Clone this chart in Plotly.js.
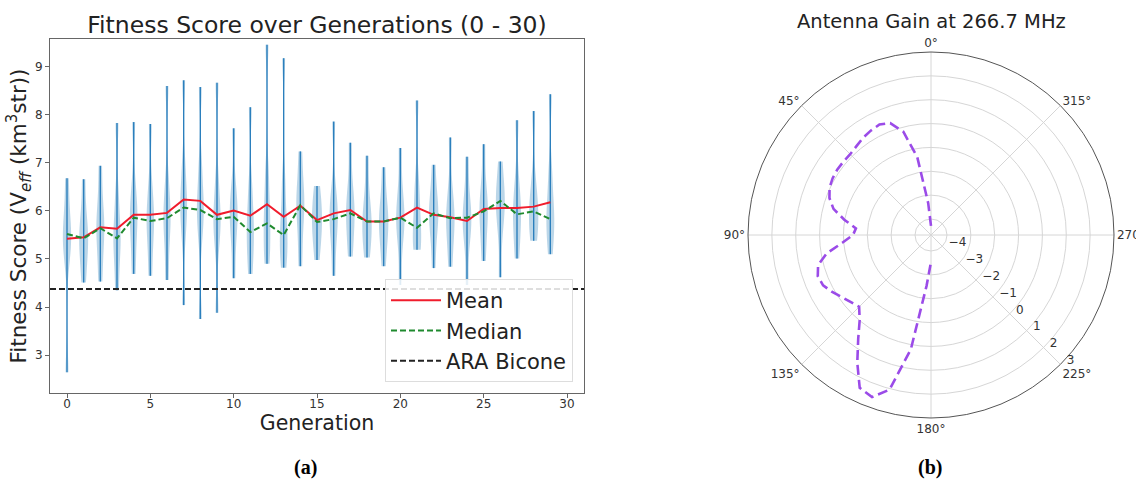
<!DOCTYPE html>
<html>
<head>
<meta charset="utf-8">
<script src="https://cdn.plot.ly/plotly-3.0.1.min.js"></script>
<style>
html,body{margin:0;padding:0;background:#fff;}
#chart{width:1136px;height:480px;}
</style>
</head>
<body>
<div id="chart"></div>
<script>
// ---------- Data: left panel (fitness per generation) ----------
const generations = [0,1,2,3,4,5,6,7,8,9,10,11,12,13,14,15,16,17,18,19,20,21,22,23,24,25,26,27,28,29];
const maxScore = [6.68,6.66,6.94,7.83,7.85,7.81,8.60,8.72,8.58,8.67,7.72,8.16,9.46,9.18,7.24,6.52,7.86,7.42,7.15,6.91,7.31,8.30,6.96,7.53,7.13,7.39,7.03,7.89,8.08,8.43];
const minScore = [2.64,4.51,4.53,4.35,4.69,4.65,4.56,4.04,3.75,3.88,4.60,4.69,4.90,4.82,4.85,4.98,4.65,5.05,5.03,4.85,4.46,5.19,4.81,4.84,4.46,4.96,4.62,5.01,5.38,5.10];
const meanScore = [5.42,5.45,5.66,5.63,5.92,5.92,5.96,6.24,6.21,5.92,6.01,5.90,6.14,5.88,6.11,5.81,5.95,6.02,5.78,5.78,5.86,6.07,5.92,5.87,5.79,6.04,6.06,6.06,6.09,6.18];
const medianScore = [5.52,5.43,5.64,5.43,5.86,5.79,5.85,6.07,6.02,5.83,5.88,5.56,5.74,5.50,6.12,5.77,5.83,5.95,5.78,5.78,5.86,5.65,5.95,5.85,5.86,5.99,6.21,5.93,5.99,5.83];
const lowerBody = [5.0,5.0,5.1,5.0,5.3,5.3,5.3,5.5,5.5,5.3,5.4,5.2,5.3,5.2,5.5,5.4,5.4,5.5,5.4,5.4,5.4,5.3,5.5,5.4,5.4,5.5,5.6,5.5,5.6,5.6];
const upperBody = [6.0,5.9,6.2,6.3,6.5,6.5,6.6,6.9,6.9,6.6,6.5,6.5,6.8,6.6,6.6,6.2,6.4,6.5,6.3,6.2,6.4,6.6,6.3,6.4,6.3,6.5,6.5,6.6,6.6,6.8];
const araBicone = 4.375;

// ---------- Data: right panel (antenna gain) ----------
const thetaDeg = [0,5,10,15,20,25,30,35,40,45,50,55,60,65,70,75,80,85,90,95,100,105,110,115,120,125,130,135,140,145,150,155,160,165,170,175,180];
const gain = [-4.29,-3.33,-1.36,-0.19,0.32,0.44,0.38,0.30,0.19,0.12,0.12,0.12,0.09,0.02,-0.14,-0.44,-0.98,-1.51,-1.40,-0.94,-0.23,0.23,0.38,0.32,0.11,-0.12,-0.29,-0.41,-0.02,0.65,1.51,2.40,2.56,2.04,0.19,-2.53,-3.54];
const angleTicks = [0,45,90,135,180,225,270,315];
const angleLabels = ['0°','45°','90°','135°','180°','225°','270°','315°'];
const gainTicks = [-4,-3,-2,-1,0,1,2,3];

// ---------- Build traces ----------
const vx = [], vy = [];
generations.forEach((g,i)=>{
  [minScore[i], lowerBody[i], medianScore[i], meanScore[i], upperBody[i], maxScore[i]].forEach(v=>{vx.push(g); vy.push(v);});
});
const ex = [], ey = [];
generations.forEach((g,i)=>{ ex.push(g,g,null); ey.push(minScore[i], maxScore[i], null); });

const xRange = [-1.02, 31.02];
const yRange = [2.21, 9.58];

const traces = [
  {type:'violin', x:vx, y:vy, width:0.6, scalemode:'width', bandwidth:0.4,
   spanmode:'hard', points:false, box:{visible:false}, meanline:{visible:false},
   fillcolor:'rgba(31,119,180,0.3)', line:{width:0, color:'rgba(31,119,180,0.3)'},
   showlegend:false, hoverinfo:'skip', xaxis:'x', yaxis:'y'},
  {type:'scatter', mode:'lines', x:ex, y:ey, line:{color:'#2b7fbd', width:1.4},
   showlegend:false, hoverinfo:'skip', xaxis:'x', yaxis:'y'},
  {type:'scatter', mode:'lines', name:'Mean', x:generations, y:meanScore,
   line:{color:'#f01c2c', width:2}, xaxis:'x', yaxis:'y'},
  {type:'scatter', mode:'lines', name:'Median', x:generations, y:medianScore,
   line:{color:'#1f8a2e', width:2, dash:'6px,3px'}, xaxis:'x', yaxis:'y'},
  {type:'scatter', mode:'lines', name:'ARA Bicone', x:xRange, y:[araBicone, araBicone],
   line:{color:'#222', width:2, dash:'6px,3px'}, xaxis:'x', yaxis:'y'},
  {type:'scatterpolar', mode:'lines', theta:thetaDeg, r:gain, subplot:'polar',
   line:{color:'#9b4be8', width:2.6, dash:'10px,5px'}, showlegend:false}
];

const font = 'DejaVu Sans, Verdana, sans-serif';
const layout = {
  width:1136, height:480, autosize:false,
  margin:{l:0,r:0,t:0,b:0},
  paper_bgcolor:'#fff', plot_bgcolor:'#fff',
  font:{family:font, color:'#222'},
  title:{text:'Fitness Score over Generations (0 - 30)', x:317/1136, xanchor:'center',
         y:1-25/480, yanchor:'middle', yref:'container', font:{size:23.5, color:'#222'}},
  xaxis:{domain:[50/1136, 584/1136], range:xRange, tickvals:[0,5,10,15,20,25,30],
         showgrid:false, zeroline:false, showline:true, mirror:true, linecolor:'#666', linewidth:1,
         ticks:'outside', ticklen:4, tickcolor:'#666', tickfont:{size:12, color:'#333'},
         ticklabelstandoff:-4,
         title:{text:'Generation', font:{size:20.5, color:'#222'}, standoff:2}, automargin:false},
  yaxis:{domain:[1-393/480, 1-39/480], range:yRange, tickvals:[3,4,5,6,7,8,9],
         showgrid:false, zeroline:false, showline:true, mirror:true, linecolor:'#666', linewidth:1,
         ticks:'outside', ticklen:4, tickcolor:'#666', tickfont:{size:12, color:'#333'},
         title:{text:'Fitness Score (V<sub><i>eff</i></sub> (km<sup>3</sup>str))', font:{size:21.5, color:'#222'}, standoff:1},
         automargin:false},
  legend:{x:573/1136, xanchor:'right', y:1-382/480, yanchor:'bottom',
          bgcolor:'rgba(255,255,255,0.85)', bordercolor:'#ddd', borderwidth:1,
          font:{size:21, color:'#222'}, itemwidth:50, tracegroupgap:0},
  polar:{domain:{x:[748/1136, 1114/1136], y:[1-418/480, 1-52/480]},
    bgcolor:'#fff',
    radialaxis:{range:[-4.67,3], tickvals:gainTicks, angle:315, side:'counterclockwise', tickangle:-45,
      showline:false, ticks:'', gridcolor:'#d6d6d6', gridwidth:1,
      tickfont:{size:12, color:'#333'}},
    angularaxis:{rotation:90, direction:'counterclockwise', tickmode:'array', tickvals:angleTicks, ticktext:angleLabels,
      showline:true, linecolor:'#555', linewidth:1, ticks:'', gridcolor:'#d6d6d6', gridwidth:1,
      tickfont:{size:12, color:'#333'}}
  },
  annotations:[
    {text:'Antenna Gain at 266.7 MHz', xref:'paper', yref:'paper', x:931/1136, y:1-22/480,
     xanchor:'center', yanchor:'middle', showarrow:false, font:{size:19.5, color:'#222'}},
    {text:'<b>(a)</b>', xref:'paper', yref:'paper', x:306/1136, y:1-467/480,
     xanchor:'center', yanchor:'middle', showarrow:false, font:{size:20, family:'Liberation Serif, Times New Roman, serif', color:'#000'}},
    {text:'<b>(b)</b>', xref:'paper', yref:'paper', x:930/1136, y:1-467/480,
     xanchor:'center', yanchor:'middle', showarrow:false, font:{size:20, family:'Liberation Serif, Times New Roman, serif', color:'#000'}}
  ]
};

Plotly.newPlot('chart', traces, layout, {staticPlot:true, displayModeBar:false});
</script>
</body>
</html>
